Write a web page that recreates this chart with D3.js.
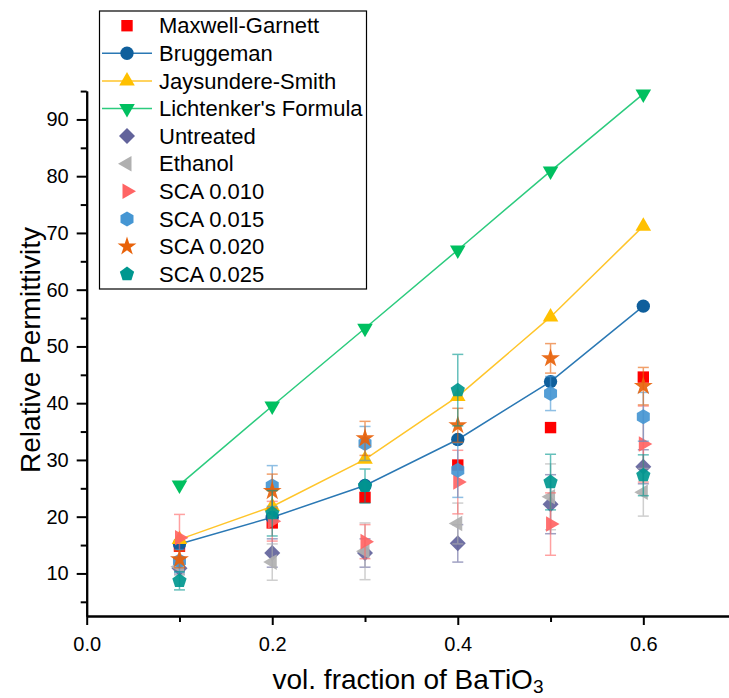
<!DOCTYPE html>
<html>
<head>
<meta charset="utf-8">
<script src="https://cdn.jsdelivr.net/npm/d3@7"></script>
<style>
 body{margin:0;background:#fff;}
 svg{font-family:Arial,"Liberation Sans",sans-serif;}
</style>
</head>
<body>
<script>
// data
var xs=[0.1,0.2,0.3,0.4,0.5,0.6]; // vol. fraction
var maxwell=[14.8,18.9,23.4,29.1,35.7,44.6];
var bruggeman=[15.2,19.9,25.5,33.6,43.8,57.1];
var jaysundere=[16.0,21.8,30.1,41.2,55.2,71.2];
var lichtenker=[25.6,39.5,53.2,67.0,80.9,94.5];
var untreated=[10.9,13.6,13.6,15.3,22.2,28.8];
var untreatedErr=[1.0,2.5,2.5,3.3,5.2,3.0];
var ethanol=[11.2,12.0,13.9,18.8,23.5,24.3];
var ethanolErr=[1.5,3.2,5.0,3.6,5.8,4.2];
var sca010=[16.3,19.2,15.6,26.1,18.7,32.8];
var sca010Err=[4.1,3.5,3.0,5.6,5.5,6.7];
var sca015=[12.2,25.4,32.9,28.2,41.7,37.6];
var sca015Err=[2.0,3.6,3.0,4.8,3.0,4.3];
var sca020=[12.5,24.5,33.8,36.1,47.9,43.0];
var sca020Err=[1.5,3.0,3.0,3.0,2.6,3.3];
var sca025=[8.7,20.6,25.4,42.3,26.1,27.3];
var sca025Err=[1.6,4.0,3.0,6.3,4.9,3.6];
var yMajor=[10,20,30,40,50,60,70,80,90];
var yMinor=[5,15,25,35,45,55,65,75,85,95];
var xMajor=[0,0.2,0.4,0.6];
var xMinor=[0.1,0.3,0.5];

// series table: name, values, errors, shape, colour, line colour
var series=[
 {name:'Maxwell-Garnett',v:maxwell,e:null,shape:'square',col:'#ff0000',line:null},
 {name:'Bruggeman',v:bruggeman,e:null,shape:'circle',col:'#0f5f9c',line:'#2a78b4'},
 {name:'Jaysundere-Smith',v:jaysundere,e:null,shape:'up',col:'#ffc000',line:'#ffc52a'},
 {name:"Lichtenker's Formula",v:lichtenker,e:null,shape:'down',col:'#00c060',line:'#2ccb7e'},
 {name:'Untreated',v:untreated,e:untreatedErr,shape:'diamond',col:'#62639b',line:null},
 {name:'Ethanol',v:ethanol,e:ethanolErr,shape:'left',col:'#b0b0b0',line:null},
 {name:'SCA 0.010',v:sca010,e:sca010Err,shape:'right',col:'#ff6464',line:null},
 {name:'SCA 0.015',v:sca015,e:sca015Err,shape:'hex',col:'#4596d3',line:null},
 {name:'SCA 0.020',v:sca020,e:sca020Err,shape:'star',col:'#e8620a',line:null},
 {name:'SCA 0.025',v:sca025,e:sca025Err,shape:'pent',col:'#00978f',line:null}
];

var wid=729, hgh=698;
var x0=86.7, yBase=616;
var x=d3.scaleLinear().domain([0,0.7]).range([x0,x0+0.7*927.7]);
var y=d3.scaleLinear().domain([2.5,95]).range([yBase,yBase-92.5*5.675]);

var svg=d3.select('body').append('svg').attr('width',wid).attr('height',hgh);

// polygon helper: n points, radius r, start angle a0 (deg, 0 = up)
function poly(n,r,a0) {
 var p=[];
 for (var i=0;i<n;i++) {
  var a=(a0+i*360/n)*Math.PI/180;
  p.push([r*Math.sin(a),-r*Math.cos(a)]);
 }
 return 'M'+p.map(function (q) {return q[0].toFixed(2)+','+q[1].toFixed(2);}).join('L')+'Z';
}
function shapePath(s) {
 if (s=='square') return d3.symbol(d3.symbolSquare,130)();
 if (s=='circle') return d3.symbol(d3.symbolCircle,140)();
 if (s=='star') return d3.symbol(d3.symbolStar,110)();
 if (s=='up') return poly(3,9,0);
 if (s=='down') return poly(3,9,180);
 if (s=='left') return poly(3,9,270);
 if (s=='right') return poly(3,9,90);
 if (s=='diamond') return poly(4,8,0);
 if (s=='hex') return poly(6,7.5,0);
 if (s=='pent') return poly(5,7.5,0);
}

// axes
var axL=svg.append('g').attr('transform','translate('+x0+',0)');
axL.call(d3.axisLeft(y).tickValues(yMajor).tickSize(10).tickPadding(8).tickSizeOuter(0));
svg.append('g').attr('transform','translate('+x0+',0)')
 .call(d3.axisLeft(y).tickValues(yMinor).tickSize(6).tickFormat('').tickSizeOuter(0));
var axB=svg.append('g').attr('transform','translate(0,'+yBase+')');
axB.call(d3.axisBottom(x).tickValues(xMajor).tickSize(9).tickPadding(12).tickSizeOuter(0).tickFormat(d3.format('.1f')));
svg.append('g').attr('transform','translate(0,'+yBase+')')
 .call(d3.axisBottom(x).tickValues(xMinor).tickSize(6).tickFormat('').tickSizeOuter(0));
svg.selectAll('.domain').attr('stroke','#000').attr('stroke-width',2);
svg.selectAll('.tick line').attr('stroke','#000').attr('stroke-width',2);
svg.selectAll('.tick text').attr('font-size',20).attr('fill','#000')
 .attr('font-family','Arial,"Liberation Sans",sans-serif');

// axis titles
svg.append('text').attr('transform','translate(40,350) rotate(-90)')
 .attr('text-anchor','middle').attr('font-size',28).text('Relative Permittivity');
var xt=svg.append('text').attr('x',408).attr('y',689)
 .attr('text-anchor','middle').attr('font-size',28);
xt.append('tspan').text('vol. fraction of BaTiO');
xt.append('tspan').attr('font-size',19).attr('dy',4).text('3');

// model lines
var lineGen=d3.line().x(function (d,i) {return x(xs[i]);}).y(function (d) {return y(d);});
series.forEach(function (s) {
 if (!s.line) return;
 svg.append('path').attr('d',lineGen(s.v)).attr('fill','none')
  .attr('stroke',s.line).attr('stroke-width',1.5);
});

// error bars + markers, in legend order
series.forEach(function (s) {
 var g=svg.append('g');
 if (s.e) {
  var eb=g.selectAll('g.err').data(s.v).enter().append('g').attr('class','err')
   .attr('stroke',s.col).attr('stroke-width',1.5).attr('opacity',0.6);
  eb.append('line').attr('x1',function (d,i) {return x(xs[i]);}).attr('x2',function (d,i) {return x(xs[i]);})
   .attr('y1',function (d,i) {return y(d+s.e[i]);}).attr('y2',function (d,i) {return y(d-s.e[i]);});
  eb.append('line').attr('x1',function (d,i) {return x(xs[i])-5.5;}).attr('x2',function (d,i) {return x(xs[i])+5.5;})
   .attr('y1',function (d,i) {return y(d+s.e[i]);}).attr('y2',function (d,i) {return y(d+s.e[i]);});
  eb.append('line').attr('x1',function (d,i) {return x(xs[i])-5.5;}).attr('x2',function (d,i) {return x(xs[i])+5.5;})
   .attr('y1',function (d,i) {return y(d-s.e[i]);}).attr('y2',function (d,i) {return y(d-s.e[i]);});
 }
 g.selectAll('path.mk').data(s.v).enter().append('path').attr('class','mk')
  .attr('d',shapePath(s.shape)).attr('fill',s.col).attr('fill-opacity',s.e?0.92:1)
  .attr('transform',function (d,i) {return 'translate('+x(xs[i])+','+y(d)+')';});
});

// legend
var lg=svg.append('g');
lg.append('rect').attr('x',99.5).attr('y',11).attr('width',267).attr('height',278)
 .attr('fill','#fff').attr('stroke','#000').attr('stroke-width',1.2);
series.forEach(function (s,i) {
 var ry=25.7+i*27.6;
 if (s.line) lg.append('line').attr('x1',102).attr('x2',152).attr('y1',ry).attr('y2',ry)
  .attr('stroke',s.line).attr('stroke-width',1.5);
 lg.append('path').attr('d',shapePath(s.shape)).attr('fill',s.col)
  .attr('transform','translate(127,'+ry+')');
 lg.append('text').attr('x',159).attr('y',ry).attr('dy','0.35em').attr('font-size',22).text(s.name);
});
</script>
</body>
</html>
